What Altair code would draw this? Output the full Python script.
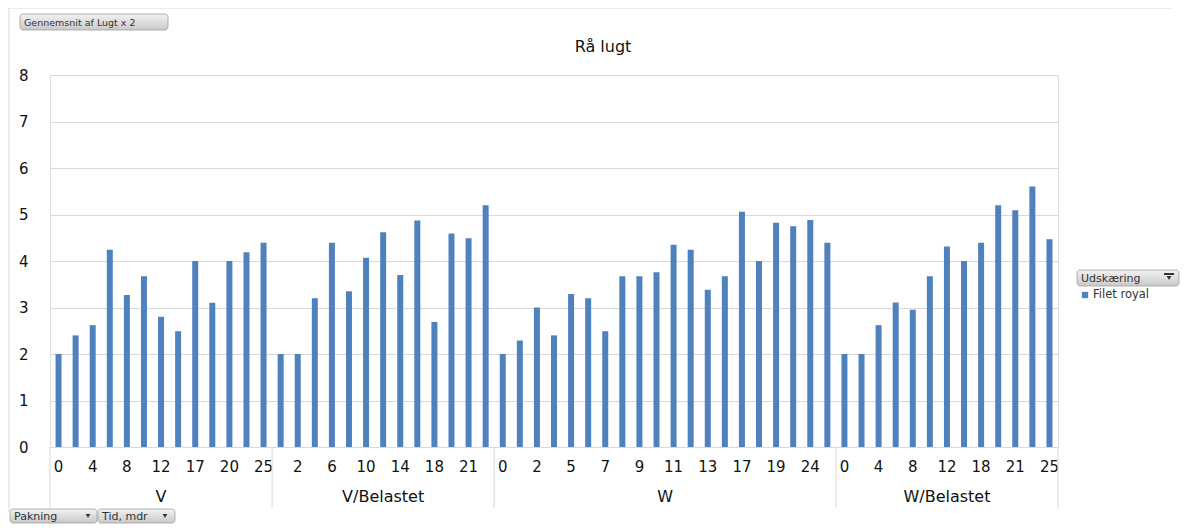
import altair as alt
import pandas as pd

groups = ["V", "V/Belastet", "W", "W/Belastet"]
times_v = ["0", "2", "4", "6", "8", "10", "12", "14", "17", "18", "20", "21", "25"]
vals_v = [2.0, 2.4, 2.62, 4.24, 3.27, 3.67, 2.8, 2.49, 4.0, 3.1, 4.0, 4.19, 4.39]
times_vb = ["0", "2", "4", "6", "8", "10", "12", "14", "17", "18", "20", "21", "25"]
vals_vb = [2.0, 2.0, 3.2, 4.39, 3.35, 4.07, 4.62, 3.7, 4.87, 2.69, 4.59, 4.49, 5.2]
times_w = ["0", "1", "2", "4", "5", "6", "7", "8", "9", "10", "11", "12", "13", "14",
           "17", "18", "19", "21", "24", "25"]
vals_w = [2.0, 2.29, 3.0, 2.4, 3.29, 3.2, 2.49, 3.67, 3.67, 3.76, 4.35, 4.24, 3.38, 3.67,
          5.06, 4.0, 4.82, 4.75, 4.88, 4.39]
times_wb = ["0", "2", "4", "6", "8", "10", "12", "14", "18", "20", "21", "24", "25"]
vals_wb = [2.0, 2.0, 2.62, 3.11, 2.95, 3.67, 4.31, 4.0, 4.39, 5.2, 5.09, 5.6, 4.47]
y_ticks = [0, 1, 2, 3, 4, 5, 6, 7, 8]

series = [(groups[0], times_v, vals_v), (groups[1], times_vb, vals_vb),
          (groups[2], times_w, vals_w), (groups[3], times_wb, vals_wb)]

rows, grows, bounds = [], [], []
pos = 0
for g, ts, vs in series:
    start = pos
    bounds.append(start - 0.5)
    for t, v in zip(ts, vs):
        rows.append({"pos": pos, "group": g, "time": t, "value": v,
                     "label": t if pos % 2 == 0 else ""})
        pos += 1
    grows.append({"group": g, "center": (start + pos - 1) / 2})
bounds.append(pos - 0.5)
n = pos

df = pd.DataFrame(rows)
gdf = pd.DataFrame(grows)
bdf = pd.DataFrame({"b": bounds})
one = pd.DataFrame({"a": [0]})

FONT = "DejaVu Sans"
W, H = 1008, 372
xscale = alt.Scale(domain=[-0.5, n - 0.5], nice=False, zero=False, padding=0)

bars = alt.Chart(df).mark_bar(size=6, color="#4F81BD").encode(
    x=alt.X("pos:Q", scale=xscale, axis=None),
    y=alt.Y("value:Q", scale=alt.Scale(domain=[0, 8], nice=False),
            axis=alt.Axis(values=y_ticks, title=None, grid=True, gridColor="#d9d9d9",
                          domain=False, ticks=False, tickSize=0, labelPadding=22,
                          labelFont=FONT, labelFontSize=15, labelColor="#111111")),
    tooltip=["group:N", "time:N", "value:Q"],
)

tick_labels = alt.Chart(df).mark_text(font=FONT, fontSize=15, baseline="middle",
                                      color="#111111").encode(
    x=alt.X("pos:Q", scale=xscale, axis=None), y=alt.value(392), text="label:N")

group_labels = alt.Chart(gdf).mark_text(font=FONT, fontSize=16, baseline="middle",
                                        color="#111111").encode(
    x=alt.X("center:Q", scale=xscale, axis=None), y=alt.value(422), text="group:N")

bound_rules = alt.Chart(bdf).mark_rule(color="#d9d9d9").encode(
    x=alt.X("b:Q", scale=xscale, axis=None), y=alt.value(H), y2=alt.value(433))

title = alt.Chart(one).mark_text(text="Rå lugt", font=FONT, fontSize=16,
                                 baseline="middle", color="#111111").encode(
    x=alt.value(553), y=alt.value(-28))

grad = alt.Gradient(gradient="linear", x1=0, x2=0, y1=0, y2=1,
                    stops=[alt.GradientStop(color="#f2f2f2", offset=0),
                           alt.GradientStop(color="#c9c9c9", offset=1)])


def button(x0, x1, y0, y1, text, size, arrow=None):
    r = alt.Chart(one).mark_rect(fill=grad, stroke="#a0a0a0", strokeWidth=0.8,
                                 cornerRadius=3).encode(
        x=alt.value(x0), x2=alt.value(x1), y=alt.value(y0), y2=alt.value(y1))
    t = alt.Chart(one).mark_text(text=text, font=FONT, fontSize=size, align="left",
                                 baseline="middle", color="#333333").encode(
        x=alt.value(x0 + 4), y=alt.value((y0 + y1) / 2 + 0.5))
    layers = [r, t]
    if arrow is not None:
        a = alt.Chart(one).mark_point(shape="triangle-down", filled=True, size=22,
                                      color="#333333", opacity=1).encode(
            x=alt.value(arrow), y=alt.value((y0 + y1) / 2))
        layers.append(a)
    return layers


btn_top = button(-30, 118, -61, -45, "Gennemsnit af Lugt x 2", 9.5)
btn_pak = button(-40, 47, 434, 448, "Pakning", 11, arrow=38)
btn_tid = button(48, 125, 434, 448, "Tid, mdr", 11, arrow=115)
btn_leg = button(1027, 1129, 195, 211, "Udskæring", 11, arrow=1119)
filt = alt.Chart(one).mark_rule(color="#333333", strokeWidth=2).encode(
    x=alt.value(1114), x2=alt.value(1124), y=alt.value(199))

leg_sq = alt.Chart(one).mark_square(size=40, color="#4F81BD", opacity=1).encode(
    x=alt.value(1035), y=alt.value(220))
leg_txt = alt.Chart(one).mark_text(text="Filet royal", font=FONT, fontSize=11.5,
                                   align="left", baseline="middle",
                                   color="#333333").encode(
    x=alt.value(1043), y=alt.value(220))

border_l = alt.Chart(one).mark_rule(color="#d9d9d9").encode(
    x=alt.value(-41), y=alt.value(-67), y2=alt.value(437))
border_t = alt.Chart(one).mark_rule(color="#d9d9d9").encode(
    x=alt.value(-41), x2=alt.value(1123), y=alt.value(-67))

chart = alt.layer(
    border_l, border_t, bars, tick_labels, group_labels, bound_rules, title,
    *btn_top, *btn_pak, *btn_tid, *btn_leg, filt, leg_sq, leg_txt,
).properties(
    width=W, height=H,
    padding={"left": 42, "top": 67, "right": 123, "bottom": 77},
    autosize=alt.AutoSizeParams(type="none"),
).configure_view(stroke=None).configure(background="white")

chart.save("out.html", embed_options={"renderer": "svg", "actions": False})
